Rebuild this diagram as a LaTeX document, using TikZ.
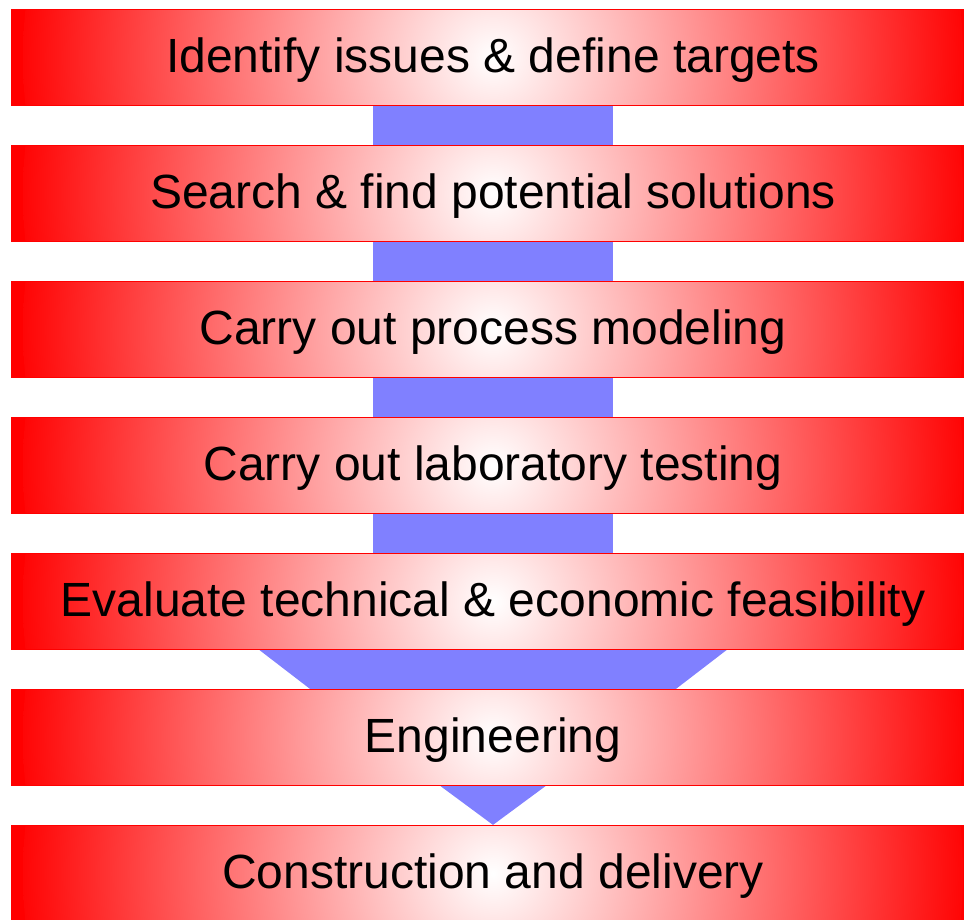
\documentclass[tikz,border=0pt]{standalone}
\usepackage{fontspec}
\setmainfont{Liberation Sans}
\usetikzlibrary{calc,backgrounds}
\pgfdeclareradialshading{redglow}{\pgfpoint{0bp}{0bp}}{color(0bp)=(white); color(25bp)=(red); color(50bp)=(red)}
\definecolor{flowblue}{HTML}{8080FF}
\tikzset{
  stagebox/.style={rectangle, minimum width=962pt, minimum height=96pt, inner sep=0pt,
    fill=red, draw=red, line width=1.2pt,
    text height=40pt, text depth=11pt,
    font=\fontsize{48}{50}\selectfont,
    path picture={\shade[shading=redglow] (path picture bounding box.center) circle (470pt);}},
  flow/.style={fill=flowblue}
}
\begin{document}
\begin{tikzpicture}[x=1pt,y=-1pt]
\useasboundingbox (0,0) rectangle (964,919);
% boxes
\node[stagebox] (b1) at (493,57.5) {Identify issues \& define targets};
\node[stagebox] (b2) at (493,193.5) {Search \& find potential solutions};
\node[stagebox] (b3) at (493,329.5) {Carry out process modeling};
\node[stagebox] (b4) at (493,465.5) {Carry out laboratory testing};
\node[stagebox] (b5) at (493,601.5) {Evaluate technical \& economic feasibility};
\node[stagebox] (b6) at (493,737.5) {Engineering};
\node[stagebox] (b7) at (493,873.5) {Construction and delivery};
% connectors (behind boxes)
\begin{scope}[on background layer]
\fill[flow] ($(b1.south)+(-120,0)$) rectangle ($(b2.north)+(120,0)$);
\fill[flow] ($(b2.south)+(-120,0)$) rectangle ($(b3.north)+(120,0)$);
\fill[flow] ($(b3.south)+(-120,0)$) rectangle ($(b4.north)+(120,0)$);
\fill[flow] ($(b4.south)+(-120,0)$) rectangle ($(b5.north)+(120,0)$);
\fill[flow] ($(b5.south)+(-233.5,0)$) -- ($(b5.south)+(233.5,0)$) -- ($(b6.north)+(183,0)$) -- ($(b6.north)+(-183,0)$) -- cycle;
\fill[flow] ($(b6.south)+(-52.5,0)$) -- ($(b6.south)+(52.5,0)$) -- (b7.north) -- cycle;
\end{scope}
\end{tikzpicture}
\end{document}
